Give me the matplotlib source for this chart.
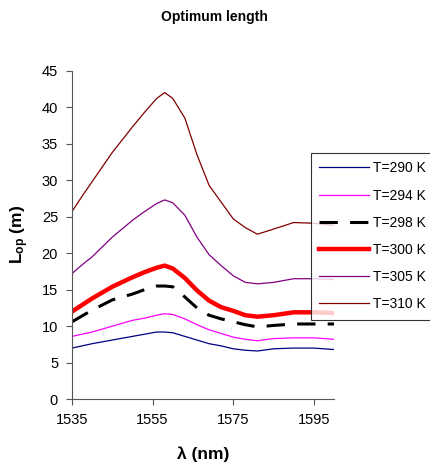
import numpy as np
import matplotlib.pyplot as plt

plt.rcParams['font.family'] = ['Liberation Sans', 'DejaVu Sans']
plt.rcParams['mathtext.fontset'] = 'custom'
plt.rcParams['mathtext.bf'] = 'Liberation Sans:bold'
plt.rcParams['mathtext.rm'] = 'Liberation Sans'

wl = [1535, 1537.5, 1540, 1545, 1550, 1553, 1556, 1558, 1560, 1563,
      1566, 1569, 1572, 1575, 1578, 1581, 1585, 1590, 1595, 1600]

L290 = [7.0, 7.3, 7.6, 8.1, 8.6, 8.9, 9.2, 9.2, 9.1, 8.6,
        8.1, 7.6, 7.3, 6.9, 6.7, 6.6, 6.9, 7.0, 7.0, 6.8]
L294 = [8.6, 8.9, 9.2, 10.0, 10.8, 11.1, 11.5, 11.7, 11.6, 11.0,
        10.2, 9.5, 9.0, 8.5, 8.2, 8.0, 8.3, 8.4, 8.4, 8.2]
L298 = [10.6, 11.4, 12.2, 13.6, 14.4, 15.0, 15.5, 15.5, 15.4, 14.0,
        12.5, 11.5, 11.0, 10.6, 10.2, 9.9, 10.1, 10.3, 10.3, 10.3]
L300 = [12.0, 12.9, 13.8, 15.4, 16.7, 17.4, 18.0, 18.3, 17.9, 16.6,
        14.9, 13.5, 12.6, 12.1, 11.5, 11.3, 11.5, 11.9, 11.9, 11.8]
L305 = [17.2, 18.4, 19.5, 22.2, 24.5, 25.7, 26.8, 27.3, 26.9, 25.2,
        22.2, 19.8, 18.3, 16.9, 16.0, 15.8, 16.0, 16.5, 16.5, 16.4]
L310 = [25.7, 27.8, 29.8, 33.8, 37.3, 39.3, 41.2, 42.0, 41.2, 38.5,
        33.5, 29.3, 27.0, 24.7, 23.5, 22.6, 23.3, 24.2, 24.1, 23.8]

fig = plt.figure(figsize=(4.31, 4.62), dpi=100)
ax = fig.add_axes([0.167, 0.136, 0.608, 0.711])

ax.plot(wl, L290, color='#000080', lw=0.9, label='T=290 K')
ax.plot(wl, L294, color='#ff00ff', lw=0.9, label='T=294 K')
ax.plot(wl, L298, color='black', lw=2.2, dashes=(6, 4), label='T=298 K')
ax.plot(wl, L300, color='red', lw=3.2, label='T=300 K')
ax.plot(wl, L305, color='#800080', lw=0.9, label='T=305 K')
ax.plot(wl, L310, color='#800000', lw=0.9, label='T=310 K')

ax.set_xlim(1535, 1600)
ax.set_ylim(0, 45)
ax.set_xticks([1535, 1555, 1575, 1595])
ax.set_yticks(np.arange(0, 46, 5))
ax.spines['top'].set_visible(False)
ax.spines['right'].set_visible(False)
ax.spines['left'].set_color('#555555')
ax.spines['bottom'].set_color('#555555')
ax.tick_params(labelsize=10.5, length=4, color='#555555', pad=6)

ax.set_xlabel('λ (nm)', fontsize=12.5, fontweight='bold', labelpad=14)
ax.set_ylabel(r'$\mathbf{L_{op}}$ (m)', fontsize=12.5, fontweight='bold', labelpad=8)
fig.text(0.497, 1 - 17 / 462, 'Optimum length', ha='center', va='center',
         fontsize=10, fontweight='bold')

leg = fig.legend(loc='upper left', bbox_to_anchor=(311 / 431, 1 - 153 / 462),
                 fontsize=10, frameon=True, fancybox=False, handlelength=3.6,
                 handletextpad=0.3, labelspacing=0.95, borderpad=0.6,
                 borderaxespad=0)
leg.get_frame().set_edgecolor('black')
leg.get_frame().set_linewidth(0.8)

fig.savefig('out.png', dpi=100)
